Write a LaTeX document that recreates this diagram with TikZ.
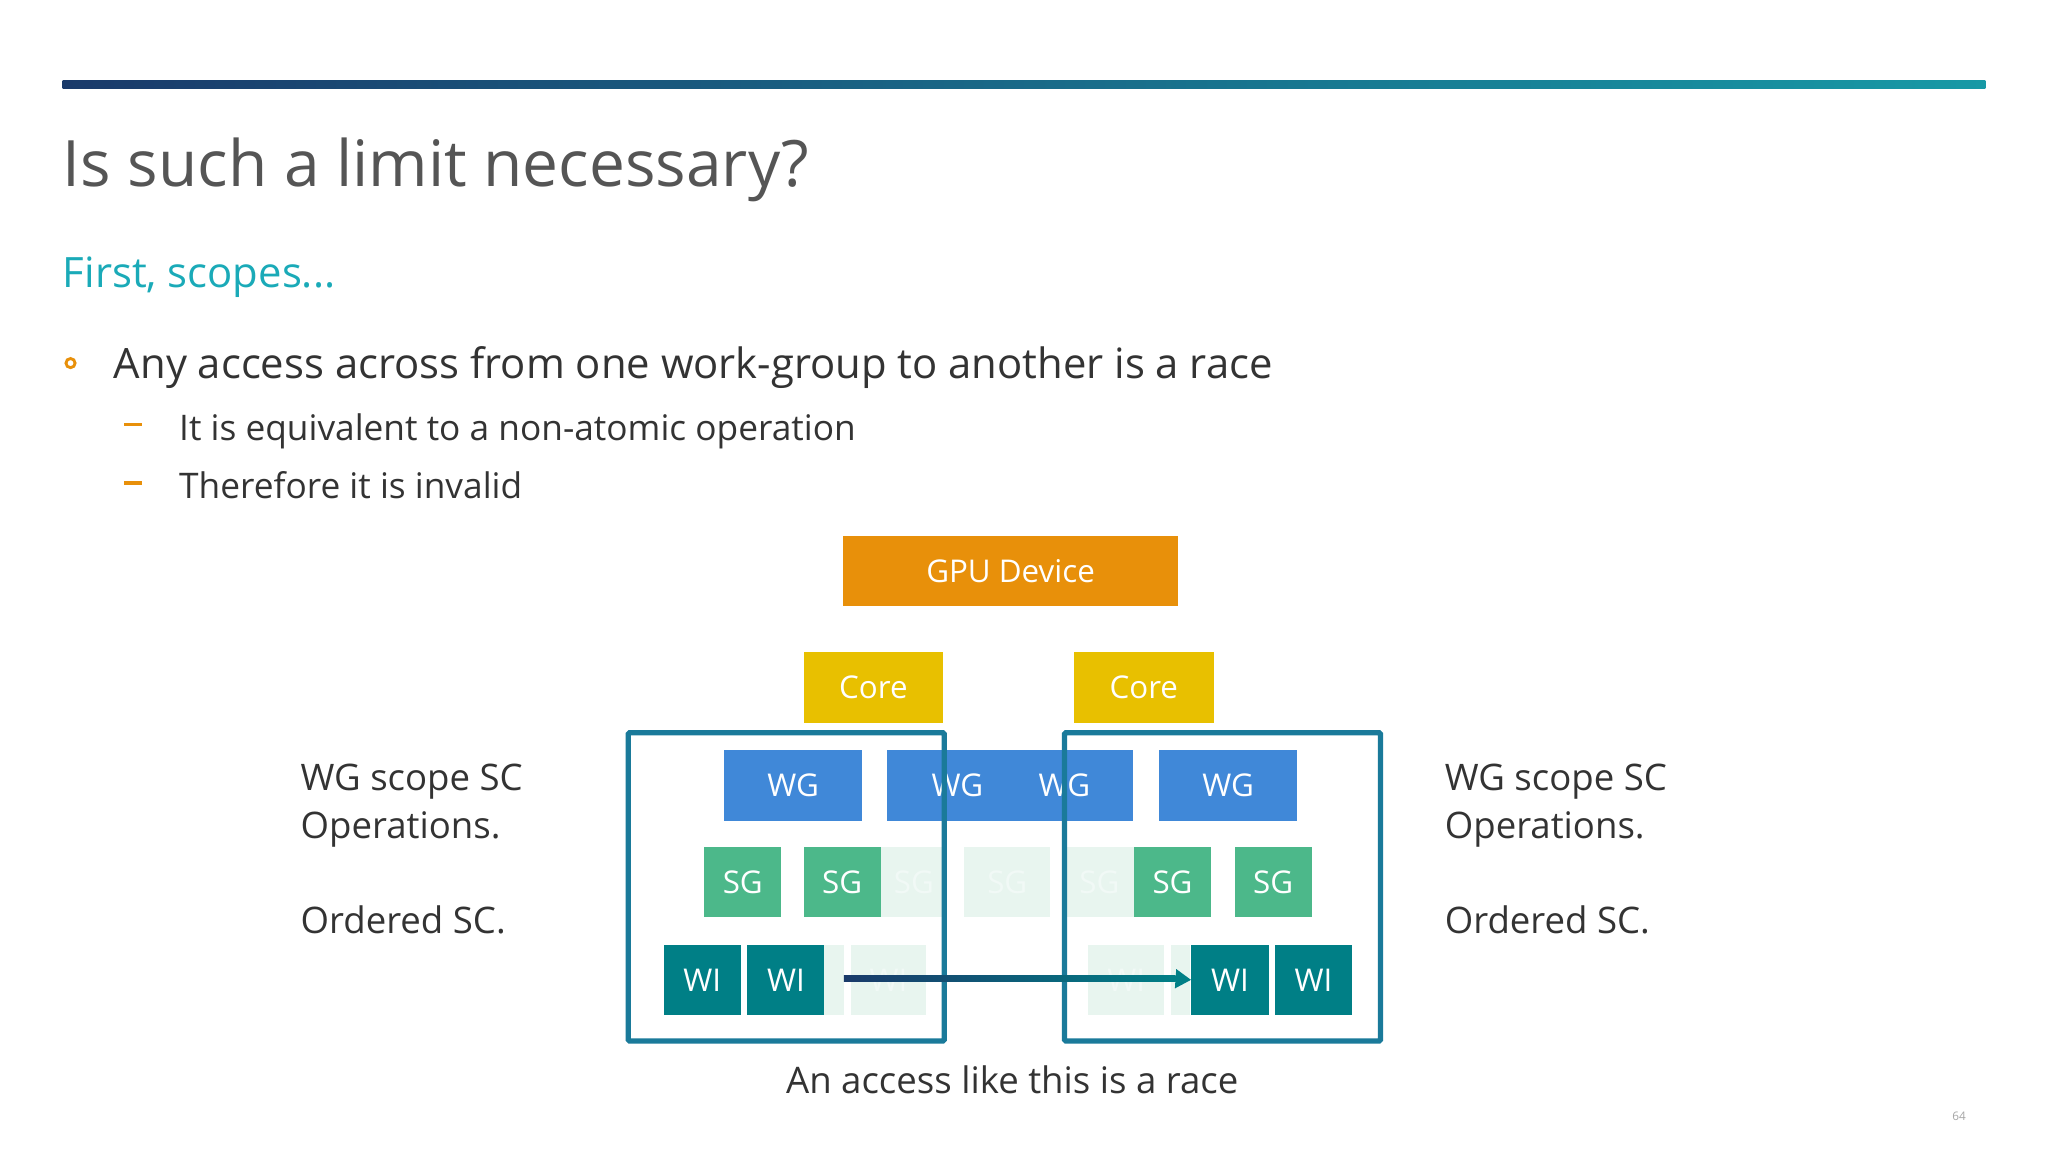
\documentclass[tikz,border=0pt]{standalone}
\usepackage{fontspec}
\setmainfont{Open Sans}
\usetikzlibrary{arrows.meta}
\definecolor{ttl}{HTML}{555555}
\definecolor{teal1}{HTML}{1AAAB8}
\definecolor{orng}{HTML}{E8900A}
\definecolor{ylw}{HTML}{E8C000}
\definecolor{wgc}{HTML}{4088D8}
\definecolor{sgc}{HTML}{4CB88A}
\definecolor{sgf}{HTML}{E8F5EF}
\definecolor{wic}{HTML}{007F86}
\definecolor{outl}{HTML}{1A7A9A}
\definecolor{navy}{HTML}{1A3A6A}
\definecolor{txt}{HTML}{333333}
\begin{document}
\begin{tikzpicture}[x=1pt,y=-1pt,
  box/.style={draw=none,inner sep=0,anchor=north west,text=white,font=\fontsize{24}{24}\selectfont},
  wg/.style={box,fill=wgc,minimum width=106,minimum height=54},
  sg/.style={box,fill=sgc,minimum width=59,minimum height=54},
  sgx/.style={box,fill=sgf,text=white!92!sgc,minimum height=54},
  wi/.style={box,fill=wic,minimum width=59,minimum height=54},
  lab/.style={anchor=base west,inner sep=0,text=txt,font=\fontsize{28}{28}\selectfont},
  outbox/.style={draw=outl,line width=4pt,rounded corners=1pt}]
\useasboundingbox[fill=white] (0,0) rectangle (1568,882);
\shade[left color=navy,right color=teal1!90!black] (48,62) rectangle (1520,68);
\node[anchor=base west,inner sep=0,text=ttl,font=\fontsize{49}{49}\selectfont] (title) at (48,143) {Is such a limit necessary?};
\node[anchor=base west,inner sep=0,text=teal1,font=\fontsize{32}{32}\selectfont] (sub) at (48,220) {First, scopes...};
\draw[orng,line width=2.2pt] (54,278) circle (3.5);
\node[anchor=base west,inner sep=0,text=txt,font=\fontsize{32}{32}\selectfont] (b1) at (87,290) {Any access across from one work-group to another is a race};
\draw[orng,line width=3pt] (95,325) -- (109,325) (95,370) -- (109,370);
\node[anchor=base west,inner sep=0,text=txt,font=\fontsize{27}{27}\selectfont] (b2) at (137,337) {It is equivalent to a non-atomic operation};
\node[anchor=base west,inner sep=0,text=txt,font=\fontsize{27}{27}\selectfont] (b3) at (137,382) {Therefore it is invalid};
\node[box,fill=orng,minimum width=257,minimum height=54] (gpu) at (645,410) {GPU Device};
\node[box,fill=ylw,minimum width=107,minimum height=54] (c1) at (615,499) {Core};
\node[box,fill=ylw,minimum width=107,minimum height=54] (c2) at (822,499) {Core};
% WG row
\node[wg] (wg1) at (554,574) {WG};
\node[wg,minimum width=188] (wg2) at (679,574) {};
\node[text=white,font=\fontsize{24}{24}\selectfont] (wg2a) at (733,601) {WG};
\node[text=white,font=\fontsize{24}{24}\selectfont] (wg2b) at (815,601) {WG};
\node[wg] (wg3) at (887,574) {WG};
% SG row
\node[sg] (sg1) at (539,648) {SG};
\node[sg] (sg2) at (615,648) {SG};
\node[sgx,minimum width=51] (sg3) at (674,648) {SG};
\node[sgx,minimum width=66] (sg4) at (738,648) {SG};
\node[sgx,minimum width=53] (sg5) at (815,648) {SG};
\node[sg] (sg6) at (868,648) {SG};
\node[sg] (sg7) at (945,648) {SG};
% WI row
\node[wi] (wi1) at (508,723) {WI};
\node[wi] (wi2) at (572,723) {WI};
\node[sgx,minimum width=15] (wf1) at (631,723) {};
\node[sgx,minimum width=58] (wf2) at (651,723) {WI};
\node[sgx,minimum width=58] (wf3) at (833,723) {WI};
\node[sgx,minimum width=15] (wf4) at (896,723) {};
\node[wi] (wi3) at (912,723) {WI};
\node[wi] (wi4) at (976,723) {WI};
% outline boxes
\draw[outbox] (481,561) rectangle (723,797);
\draw[outbox] (815,561) rectangle (1057,797);
% arrow
\coordinate (as) at (646,749);
\shade[left color=navy,right color=wic] (646,747) rectangle (900,751.5);
\draw[-{Triangle[length=12,width=14]},line width=4.5pt,wic] (895,749) -- (wi3.west);
% labels
\node[lab] (l1) at (230,605) {WG scope SC};
\node[lab] (l2) at (230,642) {Operations.};
\node[lab] (l3) at (230,715) {Ordered SC.};
\node[lab] (r1) at (1106,605) {WG scope SC};
\node[lab] (r2) at (1106,642) {Operations.};
\node[lab] (r3) at (1106,715) {Ordered SC.};
\node[anchor=base,inner sep=0,text=txt,font=\fontsize{28}{28}\selectfont] (cap) at (775,837) {An access like this is a race};
\node[anchor=base,inner sep=0,text=black!35,font=\fontsize{9}{9}\selectfont] (pg) at (1500,858) {64};
\end{tikzpicture}
\end{document}
